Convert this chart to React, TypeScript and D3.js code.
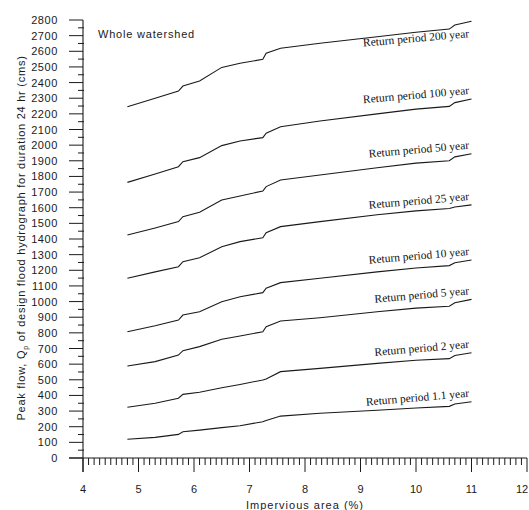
import React from "react";
import * as d3 from "d3";

const impervious = [4.8, 5.3, 5.72, 5.8, 6.1, 6.5, 6.83, 7.24, 7.3, 7.56, 8.27, 9.3, 10.0, 10.6, 10.7, 11.0];

const rp200 = [2246, 2300, 2346, 2378, 2410, 2497, 2523, 2549, 2587, 2619, 2651, 2693, 2722, 2742, 2768, 2792];
const rp100 = [1762, 1815, 1862, 1894, 1920, 1997, 2027, 2048, 2076, 2118, 2154, 2200, 2230, 2248, 2272, 2295];
const rp50 = [1425, 1470, 1511, 1543, 1571, 1649, 1675, 1707, 1735, 1777, 1809, 1855, 1885, 1900, 1925, 1945];
const rp25 = [1149, 1190, 1223, 1255, 1280, 1351, 1383, 1408, 1440, 1479, 1511, 1555, 1580, 1595, 1605, 1618];
const rp10 = [807, 845, 882, 914, 935, 999, 1031, 1057, 1085, 1121, 1149, 1190, 1215, 1230, 1248, 1266];
const rp5 = [588, 616, 658, 686, 712, 759, 780, 807, 839, 876, 897, 935, 958, 970, 992, 1014];
const rp2 = [324, 350, 382, 407, 420, 449, 470, 499, 505, 552, 573, 605, 625, 635, 655, 673];
const rp1_1 = [120, 132, 151, 168, 178, 194, 206, 232, 240, 268, 286, 305, 320, 330, 345, 360];

const seriesNames = [
  "Return period 200 year",
  "Return period 100 year",
  "Return period 50 year",
  "Return period 25 year",
  "Return period 10 year",
  "Return period 5 year",
  "Return period 2 year",
  "Return period 1.1 year",
];
const seriesValues = [rp200, rp100, rp50, rp25, rp10, rp5, rp2, rp1_1];

const yTicks = d3.range(0, 2801, 100);
const xTicks = [4, 5, 6, 7, 8, 9, 10, 11, 12];

const yTitle = "Peak flow, Q";
const yTitleSub = "p";
const yTitleRest = " of design flood hydrograph for duration 24 hr (cms)";
const xTitle = "Impervious area (%)";
const panelTitle = "Whole watershed";

export default function App() {
  const W = 529;
  const H = 510;
  const x = d3.scaleLinear().domain([4, 12]).range([83, 527]);
  const y = d3.scaleLinear().domain([0, 2800]).range([458, 20]);
  const line = d3
    .line<[number, number]>()
    .x((d) => x(d[0]))
    .y((d) => y(d[1]));

  const minorY = d3.range(50, 2800, 100);
  const minorX = d3.range(40, 120).filter((v) => v % 10 !== 0).map((v) => v / 10);
  const sans = "'Liberation Sans', Arial, Helvetica, sans-serif";
  const serif = "'Liberation Serif', 'Times New Roman', Times, serif";

  return (
    <svg
      width={W}
      height={H}
      style={{ position: "absolute", left: 0, top: 0, background: "#fff" }}
    >
      <rect x={0} y={0} width={W} height={H} fill="#fff" />
      {/* y axis */}
      <line x1={x(4)} x2={x(4)} y1={y(2800)} y2={472} stroke="#1a1a1a" strokeWidth={1.1} />
      {yTicks.map((t) => (
        <g key={"yt" + t}>
          <line x1={x(4) - 14} x2={x(4)} y1={y(t)} y2={y(t)} stroke="#1a1a1a" strokeWidth={1} />
          <text
            x={58}
            y={y(t) + 4}
            textAnchor="end"
            fontFamily={sans}
            fontSize={11}
            letterSpacing={0.6}
            fill="#1a1a1a"
          >
            {t}
          </text>
        </g>
      ))}
      {minorY.map((t) => (
        <line key={"ym" + t} x1={x(4) - 5} x2={x(4) + 1} y1={y(t)} y2={y(t)} stroke="#1a1a1a" strokeWidth={1} />
      ))}
      {/* x axis */}
      <line x1={69} x2={x(12)} y1={y(0)} y2={y(0)} stroke="#1a1a1a" strokeWidth={1.1} />
      {xTicks.map((t) => (
        <g key={"xt" + t}>
          <line x1={x(t)} x2={x(t)} y1={y(0)} y2={y(0) + 14} stroke="#1a1a1a" strokeWidth={1} />
          <text
            x={t === 12 ? x(t) - 5 : x(t)}
            y={493}
            textAnchor="middle"
            fontFamily={sans}
            fontSize={11}
            fill="#1a1a1a"
          >
            {t}
          </text>
        </g>
      ))}
      {minorX.map((t) => (
        <line key={"xm" + t} x1={x(t)} x2={x(t)} y1={y(0)} y2={y(0) + 7} stroke="#1a1a1a" strokeWidth={1} />
      ))}
      {/* titles */}
      <text
        x={x(8)}
        y={509}
        textAnchor="middle"
        fontFamily={sans}
        fontSize={11}
        letterSpacing={1}
        fill="#1a1a1a"
      >
        {xTitle}
      </text>
      <text
        transform={`translate(25, ${238}) rotate(-90)`}
        textAnchor="middle"
        fontFamily={sans}
        fontSize={11}
        letterSpacing={0.75}
        fill="#1a1a1a"
      >
        {yTitle}
        <tspan fontSize={7} dy={3}>{yTitleSub}</tspan>
        <tspan dy={-3}>{yTitleRest}</tspan>
      </text>
      <text x={98} y={38} fontFamily={sans} fontSize={11} letterSpacing={0.8} fill="#1a1a1a">
        {panelTitle}
      </text>
      {/* curves */}
      {seriesValues.map((vals, i) => {
        const pts = impervious.map((xv, j) => [xv, vals[j]] as [number, number]);
        const last = vals[vals.length - 1];
        const off = i === 0 ? 16 : -5;
        return (
          <g key={seriesNames[i]}>
            <path d={line(pts) || ""} fill="none" stroke="#1a1a1a" strokeWidth={1.1} />
            <text
              transform={`translate(${x(10.96)}, ${y(last) + off}) rotate(-5)`}
              textAnchor="end"
              fontFamily={serif}
              fontSize={11.5}
              fill="#111"
            >
              {seriesNames[i]}
            </text>
          </g>
        );
      })}
    </svg>
  );
}
